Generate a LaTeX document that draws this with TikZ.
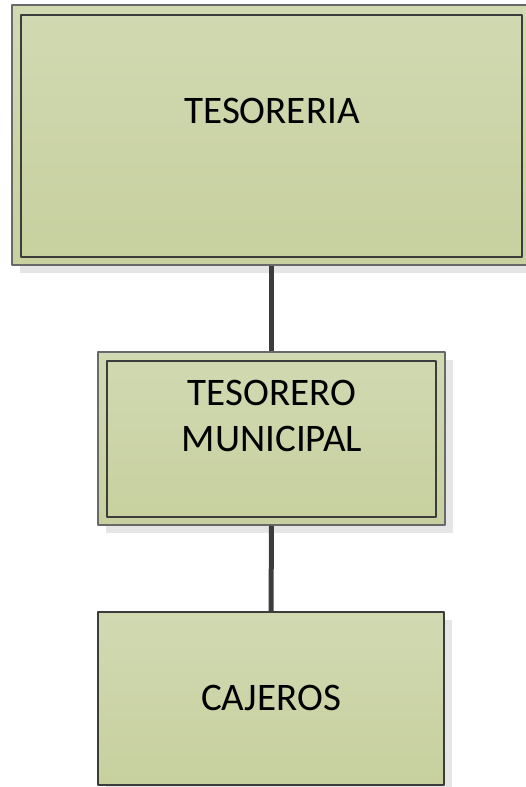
\documentclass[tikz,border=0pt]{standalone}
\usepackage{fontspec}
\setmainfont{Carlito}
\usetikzlibrary{shadows,positioning}
\definecolor{boxtop}{RGB}{209,217,178}
\definecolor{boxbot}{RGB}{199,208,158}
\definecolor{edgedark}{RGB}{60,60,60}
\definecolor{edgelight}{RGB}{105,105,105}
\tikzset{
  orgbox/.style={draw=edgelight, line width=1.5pt, inner sep=0pt, top color=boxtop, bottom color=boxbot,
    drop shadow={shadow xshift=8pt, shadow yshift=-8pt, fill=black!10, opacity=1}},
  innerbox/.style={draw=edgedark, line width=1.8pt, inner sep=0pt},
  label/.style={anchor=base, inner sep=0pt, font=\fontsize{39}{46}\selectfont},
  conn/.style={draw=edgedark, line width=5pt}
}
\begin{document}
\begin{tikzpicture}[x=1pt, y=-1pt, line join=round]
				\useasboundingbox (0,0) rectangle (525,787);
				% boxes
				\node[orgbox, minimum width=519pt, minimum height=260pt] (tesoreria) at (271.5,135) {};
				\node[innerbox, minimum width=501pt, minimum height=242pt] (tesoreriaIn) at (271.5,136) {};
				\node[orgbox, minimum width=347pt, minimum height=173pt] (tesorero) at (271.5,438.5) {};
				\node[innerbox, minimum width=329pt, minimum height=156pt] (tesoreroIn) at (271.5,439) {};
				\node[orgbox, draw=edgedark, line width=1.8pt, minimum width=346pt, minimum height=173pt] (cajeros) at (271,698.5) {};
				% texts
				\node[label] (tesoreriaText) at (272,123) {TESORERIA};
				\node[label] (tesoreroText) at (272,405) {TESORERO};
				\node[label] (municipalText) at (272,451) {MUNICIPAL};
				\node[label] (cajerosText) at (271,710.5) {CAJEROS};
				% connectors
				\draw[conn] (tesoreria.south) -- (tesorero.north);
				\draw[conn] (tesorero.south) -- (cajeros.north);
		\end{tikzpicture}
\end{document}
